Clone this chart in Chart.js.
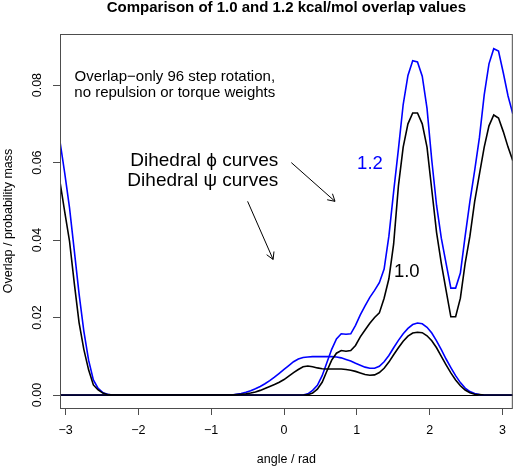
<!DOCTYPE html>
<html>
<head>
<meta charset="utf-8">
<script src="https://cdn.jsdelivr.net/npm/chart.js@4/dist/chart.umd.min.js"></script>
<style>
    body { margin: 0; background: #fff; }
    #wrap { width: 514px; height: 467px; position: relative; }
</style>
</head>
<body>
<div id="wrap"><canvas id="overlapChart"></canvas></div>
<script>
// overlap values, 96 step rotation (only non-zero stretches kept)

const phiAngles = [
    -3.0761, -3.0107, -2.9452, -2.8798, -2.8143, -2.7489, -2.6834, -2.6180, -2.5525, -2.4871, -2.4216, -2.3562,
    0.2618, 0.3272, 0.3927, 0.4581, 0.5236, 0.5890, 0.6545, 0.7199, 0.7854, 0.8508, 0.9163, 0.9817,
    1.0472, 1.1126, 1.1781, 1.2435, 1.3090, 1.3744, 1.4399, 1.5053, 1.5708, 1.6362, 1.7017, 1.7671,
    1.8326, 1.8980, 1.9635, 2.0289, 2.0944, 2.1598, 2.2253, 2.2907, 2.3562, 2.4216, 2.4871, 2.5525,
    2.6180, 2.6834, 2.7489, 2.8143, 2.8798, 2.9452, 3.0107, 3.0761, 3.1416
];
const phi12 = [
    0.0654, 0.0572, 0.0483, 0.0373, 0.0261, 0.0165, 0.0090, 0.0039, 0.0017, 0.0006, 0.0002, 0,
    0, 0.0003, 0.0012, 0.0025, 0.0050, 0.0084, 0.0118, 0.0145, 0.0158, 0.0157, 0.0158, 0.0180,
    0.0207, 0.0230, 0.0252, 0.0270, 0.0290, 0.0325, 0.0410, 0.0525, 0.0635, 0.0750, 0.0825, 0.0863,
    0.0860, 0.0823, 0.0740, 0.0606, 0.0490, 0.0405, 0.0340, 0.0276, 0.0276, 0.0315, 0.0410, 0.0500,
    0.0580, 0.0665, 0.0775, 0.0855, 0.0894, 0.0888, 0.0832, 0.0772, 0.0726
];
const phi10 = [
    0.0550, 0.0472, 0.0397, 0.0288, 0.0187, 0.0118, 0.0065, 0.0026, 0.0013, 0.0005, 0.0001, 0,
    0, 0.0001, 0.0005, 0.0015, 0.0033, 0.0062, 0.0090, 0.0108, 0.0115, 0.0113, 0.0115, 0.0128,
    0.0150, 0.0168, 0.0185, 0.0200, 0.0212, 0.0250, 0.0300, 0.0390, 0.0540, 0.0640, 0.0700, 0.0728,
    0.0728, 0.0700, 0.0640, 0.0530, 0.0420, 0.0340, 0.0270, 0.0202, 0.0202, 0.0250, 0.0340, 0.0410,
    0.0500, 0.0570, 0.0640, 0.0695, 0.0723, 0.0715, 0.0680, 0.0640, 0.0605
];

const psiAngles = [
    -3.0761,
    -0.7199, -0.6545, -0.5890, -0.5236, -0.4581, -0.3927, -0.3272, -0.2618, -0.1963, -0.1309, -0.0654, 0,
    0.0654, 0.1309, 0.1963, 0.2618, 0.3272, 0.3927, 0.4581, 0.5236, 0.5890, 0.6545, 0.7199, 0.7854,
    0.8508, 0.9163, 0.9817, 1.0472, 1.1126, 1.1781, 1.2435, 1.3090, 1.3744, 1.4399, 1.5053, 1.5708,
    1.6362, 1.7017, 1.7671, 1.8326, 1.8980, 1.9635, 2.0289, 2.0944, 2.1598, 2.2253, 2.2907, 2.3562,
    2.4216, 2.4871, 2.5525, 2.6180, 2.6834, 2.7489,
    3.1416
];
const psi12 = [
    0,
    0, 0.0002, 0.0004, 0.0007, 0.0011, 0.0016, 0.0022, 0.0029, 0.0037, 0.0046, 0.0056, 0.0066,
    0.0076, 0.0086, 0.0093, 0.0097, 0.0098, 0.0099, 0.0099, 0.0099, 0.0099, 0.0099, 0.0098, 0.0096,
    0.0092, 0.0088, 0.0082, 0.0077, 0.0072, 0.0069, 0.0069, 0.0074, 0.0086, 0.0102, 0.0122, 0.0141,
    0.0158, 0.0172, 0.0182, 0.0186, 0.0184, 0.0175, 0.0160, 0.0140, 0.0117, 0.0093, 0.0071, 0.0050,
    0.0032, 0.0018, 0.0009, 0.0004, 0.0001, 0,
    0
];
const psi10 = [
    0,
    0, 0.0001, 0.0002, 0.0003, 0.0005, 0.0008, 0.0012, 0.0017, 0.0022, 0.0027, 0.0033, 0.0040,
    0.0049, 0.0058, 0.0066, 0.0073, 0.0075, 0.0073, 0.0070, 0.0068, 0.0067, 0.0067, 0.0067, 0.0067,
    0.0066, 0.0064, 0.0061, 0.0057, 0.0053, 0.0051, 0.0052, 0.0058, 0.0069, 0.0085, 0.0104, 0.0122,
    0.0139, 0.0152, 0.0160, 0.0162, 0.0161, 0.0153, 0.0140, 0.0122, 0.0100, 0.0078, 0.0057, 0.0039,
    0.0024, 0.0013, 0.0006, 0.0002, 0.0001, 0,
    0
];

const xTicks = [-3, -2, -1, 0, 1, 2, 3];
const yTicks = [0, 0.02, 0.04, 0.06, 0.08];

const FONT = '"Liberation Sans", Arial, Helvetica, sans-serif';
const AXIS_GREY = '#4d4d4d';

function toPoints(xs, ys) {
    return xs.map((x, i) => ({ x: x, y: ys[i] }));
}

function curve(label, xs, ys, color) {
    return {
        label: label,
        data: toPoints(xs, ys),
        borderColor: color,
        borderWidth: 1.6,
        pointRadius: 0,
        tension: 0,
        fill: false
    };
}

function arrow(ctx, x0, y0, x1, y1) {
    const ang = Math.atan2(y1 - y0, x1 - x0);
    const len = 8;
    ctx.beginPath();
    ctx.moveTo(x0, y0);
    ctx.lineTo(x1, y1);
    ctx.moveTo(x1 - len * Math.cos(ang - Math.PI / 6), y1 - len * Math.sin(ang - Math.PI / 6));
    ctx.lineTo(x1, y1);
    ctx.lineTo(x1 - len * Math.cos(ang + Math.PI / 6), y1 - len * Math.sin(ang + Math.PI / 6));
    ctx.stroke();
}

// box, rotated y labels, titles and the notes inside the plot
const decorations = {
    id: 'decorations',
    afterDraw(chart) {
        const { ctx, chartArea: a, scales: { x, y } } = chart;
        const px = v => x.getPixelForValue(v);
        const py = v => y.getPixelForValue(v);
        ctx.save();

        ctx.strokeStyle = AXIS_GREY;
        ctx.lineWidth = 1;
        ctx.strokeRect(a.left + 0.5, a.top + 0.5, a.right - a.left - 1, a.bottom - a.top);

        ctx.fillStyle = '#000';
        ctx.textAlign = 'center';
        ctx.textBaseline = 'middle';

        // y tick labels, rotated as in R
        ctx.font = '12.5px ' + FONT;
        yTicks.forEach(v => {
            ctx.save();
            ctx.translate(38, py(v));
            ctx.rotate(-Math.PI / 2);
            ctx.fillText(v.toFixed(2), 0, 0);
            ctx.restore();
        });

        ctx.save();
        ctx.translate(9, (a.top + a.bottom) / 2);
        ctx.rotate(-Math.PI / 2);
        ctx.fillText('Overlap / probability mass', 0, 0);
        ctx.restore();

        ctx.fillText('angle / rad', (a.left + a.right) / 2, 460);

        ctx.font = 'bold 15px ' + FONT;
        ctx.fillText('Comparison of 1.0 and 1.2 kcal/mol overlap values', (a.left + a.right) / 2, 8);

        ctx.font = '15px ' + FONT;
        ctx.fillText('Overlap\u2212only 96 step rotation,', px(-1.5), py(0.0821));
        ctx.fillText('no repulsion or torque weights', px(-1.5), py(0.0779));

        ctx.font = '19px ' + FONT;
        ctx.textAlign = 'right';
        ctx.fillText('Dihedral \u03d5 curves', px(-0.08), py(0.0605));
        ctx.fillText('Dihedral \u03c8 curves', px(-0.08), py(0.0554));

        ctx.textAlign = 'center';
        ctx.font = '18.5px ' + FONT;
        ctx.fillStyle = '#0000ff';
        ctx.fillText('1.2', px(1.18), py(0.0596));
        ctx.fillStyle = '#000';
        ctx.fillText('1.0', px(1.685), py(0.0318));

        ctx.strokeStyle = '#000';
        ctx.lineWidth = 1;
        arrow(ctx, px(0.1), py(0.06), px(0.7), py(0.05));
        arrow(ctx, px(-0.5), py(0.05), px(-0.15), py(0.035));

        ctx.restore();
    }
};

new Chart(document.getElementById('overlapChart'), {
    type: 'line',
    data: {
        datasets: [
            curve('phi 1.0', phiAngles, phi10, '#000000'),
            curve('psi 1.0', psiAngles, psi10, '#000000'),
            curve('phi 1.2', phiAngles, phi12, '#0000ff'),
            curve('psi 1.2', psiAngles, psi12, '#0000ff')
        ]
    },
    options: {
        responsive: true,
        maintainAspectRatio: false,
        animation: false,
        layout: { padding: { top: 34, right: 1, left: 0, bottom: 0 } },
        plugins: {
            legend: { display: false },
            title: { display: false },
            tooltip: { enabled: false }
        },
        scales: {
            x: {
                type: 'linear',
                min: -3.0761,
                max: 3.1416,
                afterBuildTicks: s => { s.ticks = xTicks.map(v => ({ value: v })); },
                afterFit: s => { s.height = 59; },
                border: { display: false },
                grid: { drawOnChartArea: false, drawTicks: true, tickLength: 7, color: AXIS_GREY },
                ticks: {
                    color: '#000',
                    padding: 8,
                    maxRotation: 0,
                    font: { family: FONT, size: 12.5 },
                    callback: v => String(v).replace('-', '\u2212')
                }
            },
            y: {
                min: -0.00335,
                max: 0.0932,
                afterBuildTicks: s => { s.ticks = yTicks.map(v => ({ value: v })); },
                afterFit: s => { s.width = 60; },
                border: { display: false },
                grid: {
                    drawTicks: true,
                    tickLength: 7,
                    tickColor: AXIS_GREY,
                    color: c => (c.tick && c.tick.value === 0 ? '#000' : 'rgba(0,0,0,0)')
                },
                ticks: { display: false }
            }
        }
    },
    plugins: [decorations]
});
</script>
</body>
</html>
